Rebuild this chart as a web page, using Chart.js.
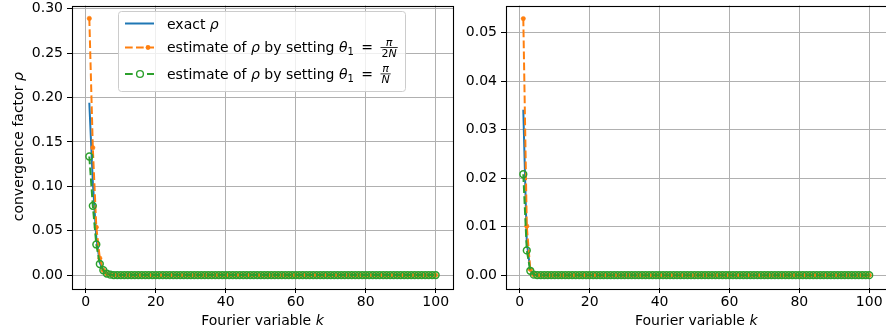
<!DOCTYPE html>
<html lang="en">
<head>
    <meta charset="UTF-8">
    <title>Convergence factor vs Fourier variable</title>
    <style>
        html, body { margin: 0; padding: 0; background: #fff; overflow: hidden; width: 886px; height: 335px; }
        .panel { position: absolute; top: 0; }
        #leftPanel { left: 0; }
        #rightPanel { left: 460px; }
    </style>
    <script src="https://cdn.jsdelivr.net/npm/chart.js"></script>
</head>
<body>
    <div class="panel" id="leftPanel"><canvas id="leftChart" width="470" height="335"></canvas></div>
    <div class="panel" id="rightPanel"><canvas id="rightChart" width="432" height="335"></canvas></div>

    <script>
        // Fourier variable k
        const kValues = [
            1, 2, 3, 4, 5, 6, 7, 8, 9, 10,
            11, 12, 13, 14, 15, 16, 17, 18, 19, 20,
            21, 22, 23, 24, 25, 26, 27, 28, 29, 30,
            31, 32, 33, 34, 35, 36, 37, 38, 39, 40,
            41, 42, 43, 44, 45, 46, 47, 48, 49, 50,
            51, 52, 53, 54, 55, 56, 57, 58, 59, 60,
            61, 62, 63, 64, 65, 66, 67, 68, 69, 70,
            71, 72, 73, 74, 75, 76, 77, 78, 79, 80,
            81, 82, 83, 84, 85, 86, 87, 88, 89, 90,
            91, 92, 93, 94, 95, 96, 97, 98, 99, 100
        ];

        // left panel
        const exactLeft = [
            0.194, 0.105, 0.042, 0.014, 0.0045, 0.0014, 0.0004, 0.0001, 0, 0,
            0, 0, 0, 0, 0, 0, 0, 0, 0, 0,
            0, 0, 0, 0, 0, 0, 0, 0, 0, 0,
            0, 0, 0, 0, 0, 0, 0, 0, 0, 0,
            0, 0, 0, 0, 0, 0, 0, 0, 0, 0,
            0, 0, 0, 0, 0, 0, 0, 0, 0, 0,
            0, 0, 0, 0, 0, 0, 0, 0, 0, 0,
            0, 0, 0, 0, 0, 0, 0, 0, 0, 0,
            0, 0, 0, 0, 0, 0, 0, 0, 0, 0,
            0, 0, 0, 0, 0, 0, 0, 0, 0, 0
        ];
        const halfStepLeft = [
            0.289, 0.1435, 0.054, 0.019, 0.0055, 0.0015, 0.0004, 0.0001, 0, 0,
            0, 0, 0, 0, 0, 0, 0, 0, 0, 0,
            0, 0, 0, 0, 0, 0, 0, 0, 0, 0,
            0, 0, 0, 0, 0, 0, 0, 0, 0, 0,
            0, 0, 0, 0, 0, 0, 0, 0, 0, 0,
            0, 0, 0, 0, 0, 0, 0, 0, 0, 0,
            0, 0, 0, 0, 0, 0, 0, 0, 0, 0,
            0, 0, 0, 0, 0, 0, 0, 0, 0, 0,
            0, 0, 0, 0, 0, 0, 0, 0, 0, 0,
            0, 0, 0, 0, 0, 0, 0, 0, 0, 0
        ];
        const fullStepLeft = [
            0.1335, 0.078, 0.0345, 0.0125, 0.0055, 0.0017, 0.0005, 0.0001, 0, 0,
            0, 0, 0, 0, 0, 0, 0, 0, 0, 0,
            0, 0, 0, 0, 0, 0, 0, 0, 0, 0,
            0, 0, 0, 0, 0, 0, 0, 0, 0, 0,
            0, 0, 0, 0, 0, 0, 0, 0, 0, 0,
            0, 0, 0, 0, 0, 0, 0, 0, 0, 0,
            0, 0, 0, 0, 0, 0, 0, 0, 0, 0,
            0, 0, 0, 0, 0, 0, 0, 0, 0, 0,
            0, 0, 0, 0, 0, 0, 0, 0, 0, 0,
            0, 0, 0, 0, 0, 0, 0, 0, 0, 0
        ];

        // right panel
        const exactRight = [
            0.0341, 0.0068, 0.001, 0.0001, 0, 0, 0, 0, 0, 0,
            0, 0, 0, 0, 0, 0, 0, 0, 0, 0,
            0, 0, 0, 0, 0, 0, 0, 0, 0, 0,
            0, 0, 0, 0, 0, 0, 0, 0, 0, 0,
            0, 0, 0, 0, 0, 0, 0, 0, 0, 0,
            0, 0, 0, 0, 0, 0, 0, 0, 0, 0,
            0, 0, 0, 0, 0, 0, 0, 0, 0, 0,
            0, 0, 0, 0, 0, 0, 0, 0, 0, 0,
            0, 0, 0, 0, 0, 0, 0, 0, 0, 0,
            0, 0, 0, 0, 0, 0, 0, 0, 0, 0
        ];
        const halfStepRight = [
            0.0529, 0.0101, 0.0012, 0.0001, 0, 0, 0, 0, 0, 0,
            0, 0, 0, 0, 0, 0, 0, 0, 0, 0,
            0, 0, 0, 0, 0, 0, 0, 0, 0, 0,
            0, 0, 0, 0, 0, 0, 0, 0, 0, 0,
            0, 0, 0, 0, 0, 0, 0, 0, 0, 0,
            0, 0, 0, 0, 0, 0, 0, 0, 0, 0,
            0, 0, 0, 0, 0, 0, 0, 0, 0, 0,
            0, 0, 0, 0, 0, 0, 0, 0, 0, 0,
            0, 0, 0, 0, 0, 0, 0, 0, 0, 0,
            0, 0, 0, 0, 0, 0, 0, 0, 0, 0
        ];
        const fullStepRight = [
            0.0208, 0.0051, 0.0009, 0.0001, 0, 0, 0, 0, 0, 0,
            0, 0, 0, 0, 0, 0, 0, 0, 0, 0,
            0, 0, 0, 0, 0, 0, 0, 0, 0, 0,
            0, 0, 0, 0, 0, 0, 0, 0, 0, 0,
            0, 0, 0, 0, 0, 0, 0, 0, 0, 0,
            0, 0, 0, 0, 0, 0, 0, 0, 0, 0,
            0, 0, 0, 0, 0, 0, 0, 0, 0, 0,
            0, 0, 0, 0, 0, 0, 0, 0, 0, 0,
            0, 0, 0, 0, 0, 0, 0, 0, 0, 0,
            0, 0, 0, 0, 0, 0, 0, 0, 0, 0
        ];

        const xTicks = [0, 20, 40, 60, 80, 100];
        const yTicksLeft = [0, 0.05, 0.10, 0.15, 0.20, 0.25, 0.30];
        const yTicksRight = [0, 0.01, 0.02, 0.03, 0.04, 0.05];

        const FONT = '"DejaVu Sans", sans-serif';
        const BLUE = '#1f77b4', ORANGE = '#ff7f0e', GREEN = '#2ca02c';
        const DASH = [7.7, 3.3];
        const FRAC_SIZE = 11;

        Chart.defaults.font.family = FONT;
        Chart.defaults.font.size = 14;
        Chart.defaults.color = '#000';

        function fontStr(size, italic) {
            return (italic ? 'italic ' : '') + size + 'px ' + FONT;
        }

        // small rich-text helper for the mathtext bits (italics, subscript, fraction)
        function richWidth(ctx, parts, size) {
            let w = 0;
            parts.forEach(p => {
                if (p.gap) {
                    w += p.gap;
                } else if (p.frac) {
                    const wn = richWidth(ctx, p.frac[0], FRAC_SIZE);
                    const wd = richWidth(ctx, p.frac[1], FRAC_SIZE);
                    w += Math.max(wn, wd) + 4;
                } else {
                    ctx.font = fontStr(p.size || size, p.italic);
                    w += ctx.measureText(p.text).width;
                }
            });
            return w;
        }

        function drawRich(ctx, parts, x, y, size) {
            let cx = x;
            ctx.textAlign = 'left';
            ctx.textBaseline = 'alphabetic';
            parts.forEach(p => {
                if (p.gap) {
                    cx += p.gap;
                } else if (p.frac) {
                    const wn = richWidth(ctx, p.frac[0], FRAC_SIZE);
                    const wd = richWidth(ctx, p.frac[1], FRAC_SIZE);
                    const w = Math.max(wn, wd) + 2;
                    const bar = y - 4.6;
                    drawRich(ctx, p.frac[0], cx + 1 + (w - wn) / 2, bar - 1.6, FRAC_SIZE);
                    drawRich(ctx, p.frac[1], cx + 1 + (w - wd) / 2, bar + 9.4, FRAC_SIZE);
                    ctx.fillRect(cx + 1, bar - 0.4, w, 0.8);
                    cx += w + 2;
                } else {
                    ctx.font = fontStr(p.size || size, p.italic);
                    ctx.fillText(p.text, cx, y + (p.dy || 0));
                    cx += ctx.measureText(p.text).width;
                }
            });
        }

        const legendRows = [
            { color: BLUE, dash: [], marker: null, mx: 0, y: 23.5, base: 28.5,
              parts: [{ text: 'exact ' }, { text: 'ρ', italic: true }] },
            { color: ORANGE, dash: DASH, marker: 'dot', mx: 148, y: 47.5, base: 52,
              parts: [{ text: 'estimate of ' }, { text: 'ρ', italic: true }, { text: ' by setting ' },
                      { text: 'θ', italic: true }, { text: '1', size: 10, dy: 3 }, { gap: 3 }, { text: ' = ' },
                      { gap: 2 }, { frac: [[{ text: 'π', italic: true }], [{ text: '2' }, { text: 'N', italic: true }]] }] },
            { color: GREEN, dash: DASH, marker: 'circle', mx: 140, y: 74, base: 78.5,
              parts: [{ text: 'estimate of ' }, { text: 'ρ', italic: true }, { text: ' by setting ' },
                      { text: 'θ', italic: true }, { text: '1', size: 10, dy: 3 }, { gap: 3 }, { text: ' = ' },
                      { gap: 2 }, { frac: [[{ text: 'π', italic: true }], [{ text: 'N', italic: true }]] }] }
        ];

        const framePlugin = {
            id: 'frame',
            afterDatasetsDraw(chart, args, opts) {
                const ctx = chart.ctx;
                const a = chart.chartArea;
                ctx.save();
                ctx.strokeStyle = '#000';
                ctx.lineWidth = 1.1;
                ctx.strokeRect(Math.round(a.left) + 0.5, Math.round(a.top) + 0.5,
                    Math.round(a.right - a.left), Math.round(a.bottom - a.top));

                // axis titles
                ctx.fillStyle = '#000';
                const xParts = [{ text: 'Fourier variable ' }, { text: 'k', italic: true }];
                const xw = richWidth(ctx, xParts, 14);
                drawRich(ctx, xParts, (a.left + a.right) / 2 - xw / 2, 325, 14);

                if (opts.yTitle) {
                    const yParts = [{ text: 'convergence factor ' }, { text: 'ρ', italic: true }];
                    const yw = richWidth(ctx, yParts, 14);
                    ctx.save();
                    ctx.translate(18, (a.top + a.bottom) / 2);
                    ctx.rotate(-Math.PI / 2);
                    drawRich(ctx, yParts, -yw / 2, 5, 14);
                    ctx.restore();
                }

                if (opts.legend) {
                    const bx = 118, by = 11, bw = 287, bh = 80, r = 3;
                    ctx.beginPath();
                    ctx.roundRect(bx + 0.5, by + 0.5, bw, bh, r);
                    ctx.fillStyle = 'rgba(255,255,255,0.8)';
                    ctx.fill();
                    ctx.strokeStyle = '#cccccc';
                    ctx.lineWidth = 1;
                    ctx.stroke();

                    legendRows.forEach(row => {
                        ctx.save();
                        ctx.strokeStyle = row.color;
                        ctx.lineWidth = 2;
                        ctx.setLineDash(row.dash);
                        ctx.beginPath();
                        ctx.moveTo(125, row.y);
                        ctx.lineTo(154, row.y);
                        ctx.stroke();
                        ctx.setLineDash([]);
                        if (row.marker === 'dot') {
                            ctx.fillStyle = row.color;
                            ctx.beginPath();
                            ctx.arc(row.mx, row.y, 2.4, 0, Math.PI * 2);
                            ctx.fill();
                        } else if (row.marker === 'circle') {
                            ctx.fillStyle = '#fff';
                            ctx.lineWidth = 1.4;
                            ctx.beginPath();
                            ctx.arc(row.mx, row.y, 3.4, 0, Math.PI * 2);
                            ctx.fill();
                            ctx.stroke();
                        }
                        ctx.restore();
                        ctx.fillStyle = '#000';
                        drawRich(ctx, row.parts, 167, row.base, 14);
                    });
                }
                ctx.restore();
            }
        };

        function toPoints(values) {
            return kValues.map((k, i) => ({ x: k, y: values[i] }));
        }

        function makeChart(canvasId, exact, halfStep, fullStep, yTicks, yMin, yMax, axisWidth, padRight, showYTitle, showLegend) {
            const ctx = document.getElementById(canvasId);
            return new Chart(ctx, {
                type: 'line',
                data: {
                    datasets: [
                        { label: 'exact', data: toPoints(exact), borderColor: BLUE, borderWidth: 2,
                          pointRadius: 0, order: 3 },
                        { label: 'pi/2N', data: toPoints(halfStep), borderColor: ORANGE, backgroundColor: ORANGE,
                          borderWidth: 2, borderDash: DASH, pointRadius: 2.2, pointBorderWidth: 0.5,
                          pointBackgroundColor: ORANGE, pointBorderColor: ORANGE, order: 2 },
                        { label: 'pi/N', data: toPoints(fullStep), borderColor: GREEN, borderWidth: 2,
                          borderDash: DASH, pointRadius: 3.4, pointBorderWidth: 1.5,
                          pointBackgroundColor: 'rgba(0,0,0,0)', pointBorderColor: GREEN, order: 1 }
                    ]
                },
                options: {
                    responsive: false,
                    animation: false,
                    devicePixelRatio: 1,
                    layout: { padding: { left: 0, right: padRight, top: 5, bottom: 0 } },
                    elements: { line: { tension: 0 } },
                    plugins: {
                        legend: { display: false },
                        tooltip: { enabled: false },
                        frame: { yTitle: showYTitle, legend: showLegend }
                    },
                    scales: {
                        x: {
                            type: 'linear',
                            min: -3.95,
                            max: 104.95,
                            afterBuildTicks: s => { s.ticks = xTicks.map(v => ({ value: v })); },
                            afterFit: s => { s.height = 47; s.paddingLeft = 0; s.paddingRight = 0; },
                            ticks: { padding: 1, maxRotation: 0, autoSkip: false, color: '#000',
                                     callback: v => String(v) },
                            grid: { color: '#b0b0b0', lineWidth: 1, tickColor: '#000', tickLength: 5 },
                            border: { display: false }
                        },
                        y: {
                            type: 'linear',
                            min: yMin,
                            max: yMax,
                            afterBuildTicks: s => { s.ticks = yTicks.map(v => ({ value: v })); },
                            afterFit: s => { s.width = axisWidth; s.paddingTop = 0; s.paddingBottom = 0; },
                            ticks: { padding: 4, color: '#000', callback: v => v.toFixed(2) },
                            grid: { color: '#b0b0b0', lineWidth: 1, tickColor: '#000', tickLength: 5 },
                            border: { display: false }
                        }
                    }
                },
                plugins: [framePlugin]
            });
        }

        makeChart('leftChart', exactLeft, halfStepLeft, fullStepLeft, yTicksLeft, -0.0145, 0.3035, 72, 17, true, true);
        makeChart('rightChart', exactRight, halfStepRight, fullStepRight, yTicksRight, -0.00265, 0.0556, 46, 4, false, false);
    </script>
</body>
</html>
